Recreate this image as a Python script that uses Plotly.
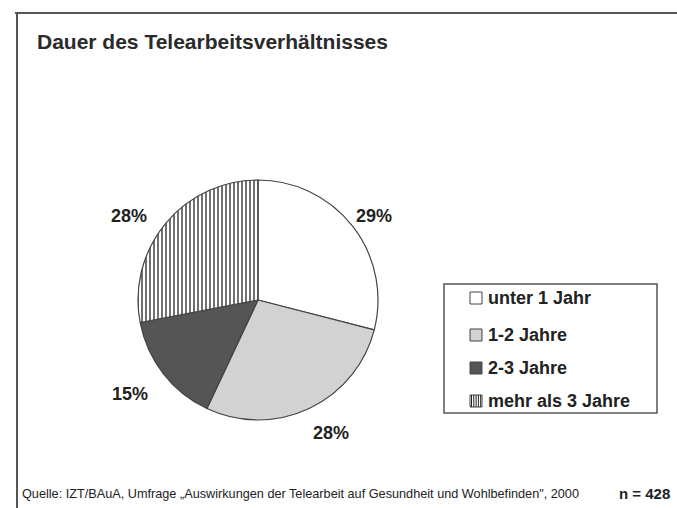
import plotly.graph_objects as go

categories = ["unter 1 Jahr", "1-2 Jahre", "2-3 Jahre", "mehr als 3 Jahre"]
values = [29, 28, 15, 28]
fills = ["#ffffff", "#d2d2d2", "#555555", "#ffffff"]
patterns = ["", "", "", "|"]
title_text = "Dauer des Telearbeitsverhältnisses"
source_text = "Quelle: IZT/BAuA, Umfrage \u201eAuswirkungen der Telearbeit auf Gesundheit und Wohlbefinden\", 2000"
n_text = "n = 428"

W, H = 677, 508
def px(x):
    return x / W
def py(y):
    return 1 - y / H

fig = go.Figure()
fig.add_trace(go.Pie(
    labels=categories, values=values, sort=False, direction="clockwise", rotation=0,
    marker=dict(colors=fills, line=dict(color="#444444", width=1.2),
                pattern=dict(shape=patterns, fgcolor="#111111", bgcolor="#ffffff", size=4, solidity=0.3)),
    textinfo="none", hoverinfo="label+percent", showlegend=False,
    domain=dict(x=[px(138), px(378)], y=[py(420), py(180)]),
))

font_b = "Liberation Sans, Arial, sans-serif"
def A(x, y, text, size, xanchor="center", color="#222222"):
    return dict(x=px(x), y=py(y), xref="paper", yref="paper", xanchor=xanchor, yanchor="middle",
                text=text, showarrow=False, font=dict(family=font_b, size=size, color=color))

ann = []
label_pos = [(374, 216), (331, 433), (130, 394), (129, 216)]
for v, (x, y) in zip(values, label_pos):
    ann.append(A(x, y, f"<b>{v}%</b>", 18))
ann.append(A(35, 42, f"<b>{title_text}</b>", 21, xanchor="left", color="#2a2a2a"))
ann.append(A(20, 494, source_text, 12.7, xanchor="left"))
ann.append(A(672, 493, f"<b>{n_text}</b>", 15, xanchor="right"))

shapes = []
shapes.append(dict(type="line", xref="paper", yref="paper", x0=px(15), x1=1, y0=py(13), y1=py(13),
                   line=dict(color="#555555", width=2)))
shapes.append(dict(type="line", xref="paper", yref="paper", x0=px(17), x1=px(17), y0=py(12), y1=0,
                   line=dict(color="#555555", width=2)))
shapes.append(dict(type="rect", xref="paper", yref="paper", x0=px(444), x1=px(657), y0=py(413), y1=py(284),
                   line=dict(color="#555555", width=1.5), fillcolor="rgba(0,0,0,0)"))
leg_y = [298, 335, 368, 401]
for i, (cat, y) in enumerate(zip(categories, leg_y)):
    shapes.append(dict(type="rect", xref="paper", yref="paper", x0=px(470), x1=px(482), y0=py(y + 6), y1=py(y - 6),
                       line=dict(color="#444444", width=1), fillcolor=fills[i]))
    if patterns[i] == "|":
        for k in range(5):
            xx = 471.5 + k * 2.3
            shapes.append(dict(type="line", xref="paper", yref="paper", x0=px(xx), x1=px(xx),
                               y0=py(y + 6), y1=py(y - 6), line=dict(color="#222222", width=1)))
    ann.append(A(486, y, f"<b>{cat}</b>", 18, xanchor="left"))

fig.update_layout(width=W, height=H, margin=dict(l=0, r=0, t=0, b=0),
                  paper_bgcolor="#ffffff", plot_bgcolor="#ffffff",
                  annotations=ann, shapes=shapes, showlegend=False)
fig.write_html("out.html")
